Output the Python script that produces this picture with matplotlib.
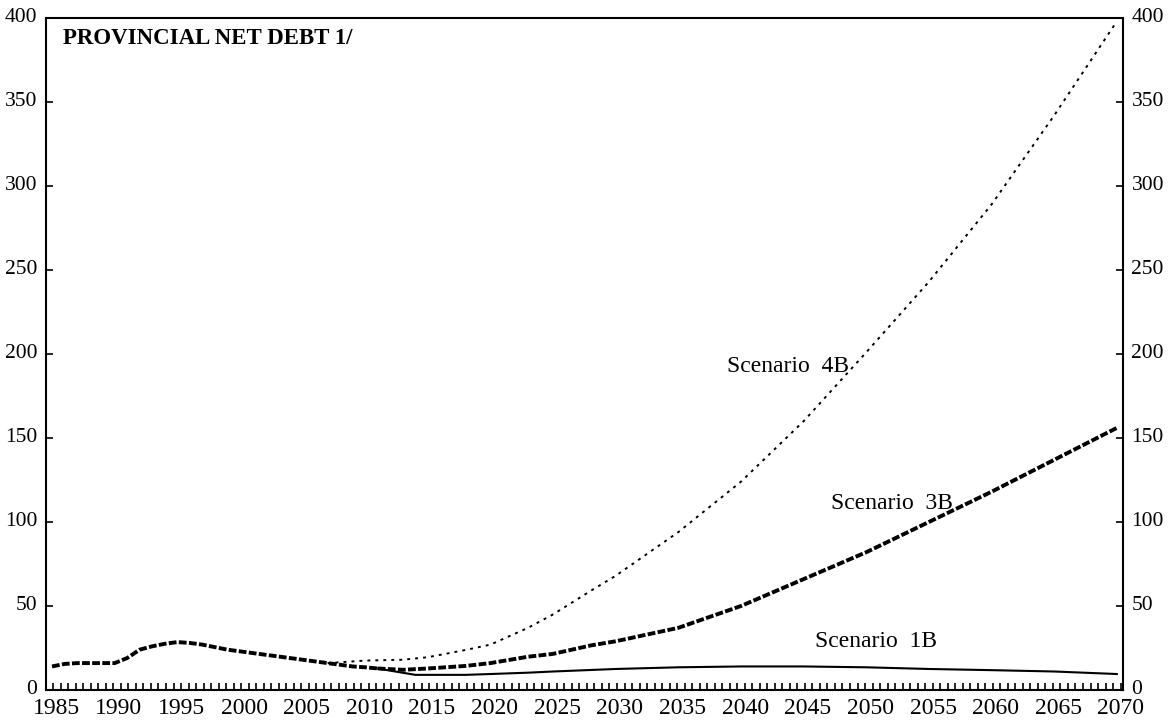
import numpy as np
import matplotlib
matplotlib.use("Agg")
import matplotlib.pyplot as plt
from matplotlib.transforms import ScaledTranslation

plt.rcParams['font.family'] = ['Liberation Serif', 'DejaVu Serif']

# historical path, shared by all scenarios
hist_years = [1985, 1986, 1987, 1988, 1989, 1990, 1991, 1992, 1993, 1994, 1995,
              1996, 1997, 1998, 1999, 2000, 2001, 2002, 2003, 2004, 2005, 2006,
              2007, 2008, 2009, 2010, 2011]
hist_debt = [14, 15.5, 16, 16, 16, 16, 19, 24, 26, 27.5, 28.5,
             28, 27, 25.5, 24, 23, 22, 21, 20, 19, 18, 17,
             16, 15, 14, 13.5, 12.8]

# projections
s1b_years = [2011, 2012, 2014, 2018, 2020, 2023, 2025, 2028, 2030, 2035, 2040,
             2045, 2050, 2055, 2060, 2065, 2070]
s1b_debt = [12.8, 11.5, 9, 9, 9.5, 10.3, 11, 11.9, 12.5, 13.5, 14,
            14, 13.5, 12.5, 11.8, 11, 9.5]

s3b_years = [2011, 2013, 2015, 2018, 2020, 2023, 2025, 2028, 2030, 2035, 2040,
             2045, 2050, 2055, 2060, 2065, 2070]
s3b_debt = [12.8, 12, 12.8, 14.3, 16, 19.8, 21.5, 26.5, 29, 37, 50,
            66, 82, 100, 118, 137, 156]

s4b_years = [2007, 2010, 2013, 2015, 2018, 2020, 2023, 2025, 2028, 2030, 2035,
             2040, 2045, 2050, 2055, 2060, 2065, 2070]
s4b_debt = [16, 17.5, 18, 19.5, 23.8, 27, 37, 45, 59, 68, 94,
            124, 160, 201, 243, 289, 342, 398]

x_ticks = list(range(1985, 2071, 5))
y_ticks = list(range(0, 401, 50))

fig = plt.figure(figsize=(11.76, 7.2), dpi=100)
ax = fig.add_axes([0.0389, 0.0417, 0.9161, 0.9333])

# thick chain-like line for history and scenario 3B
ax.plot(hist_years, hist_debt, color='black', lw=2.8, dashes=(2.0, 0.6),
        dash_capstyle='butt')
ax.plot(s3b_years, s3b_debt, color='black', lw=2.8, dashes=(2.0, 0.6),
        dash_capstyle='butt')
ax.plot(s4b_years, s4b_debt, color='black', lw=1.4, dashes=(1.5, 2.6),
        dash_capstyle='butt')
ax.plot(s1b_years, s1b_debt, color='black', lw=1.5)

ax.set_xlim(1984.5, 2070.5)
ax.set_ylim(0, 400)

ax.set_xticks(x_ticks)
ax.set_xticks(np.arange(1984.5, 2070.5, 0.6), minor=True)
ax.set_yticks(y_ticks)
ax.tick_params(axis='x', which='major', length=0, labelsize=17, pad=6)
ax.tick_params(axis='x', which='minor', direction='in', length=5, width=1.2)
ax.tick_params(axis='y', which='major', direction='in', length=5, width=1.2,
               labelsize=15.5, pad=6, right=True, labelright=True)

# x labels sit a bit right of their years, y labels a bit above their ticks
for lbl in ax.get_xticklabels():
    lbl.set_transform(lbl.get_transform() + ScaledTranslation(3 / 72, 0, fig.dpi_scale_trans))
for t in ax.yaxis.get_major_ticks():
    for lbl in (t.label1, t.label2):
        lbl.set_transform(lbl.get_transform() + ScaledTranslation(0, 2 / 72, fig.dpi_scale_trans))

for sp in ax.spines.values():
    sp.set_linewidth(1.5)

ax.text(0.016, 0.985, 'PROVINCIAL NET DEBT 1/', transform=ax.transAxes,
        fontsize=16.5, fontweight='bold', va='top', ha='left')
ax.text(2038.9, 189.5, 'Scenario  4B', fontsize=17, va='baseline', ha='left')
ax.text(2047.2, 108, 'Scenario  3B', fontsize=17, va='baseline', ha='left')
ax.text(2045.9, 25.5, 'Scenario  1B', fontsize=17, va='baseline', ha='left')

fig.savefig('out.png', dpi=100)
